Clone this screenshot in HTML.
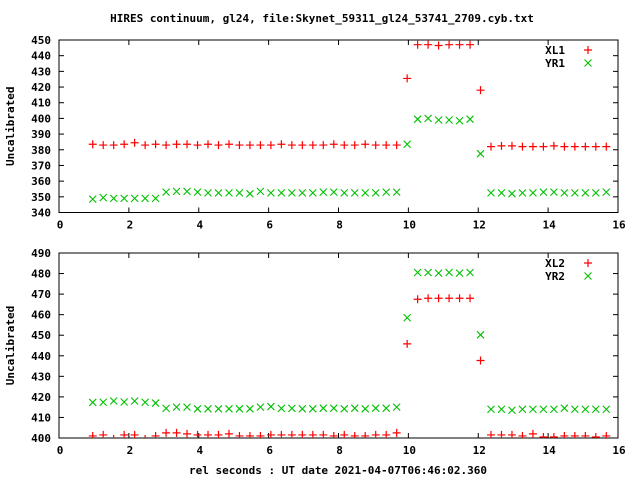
<!DOCTYPE html>
<html><head><meta charset="utf-8"><style>
body{margin:0;background:#fff}
svg{display:block}
text{font-family:"DejaVu Sans Mono","Liberation Mono",monospace;font-size:11px;font-weight:bold;fill:#000}
</style></head><body>
<svg id="chart" width="640" height="480" viewBox="0 0 640 480" xmlns="http://www.w3.org/2000/svg">
<rect width="640" height="480" fill="#fff"/>
<text x="322" y="22" text-anchor="middle">HIRES continuum, gl24, file:Skynet_59311_gl24_53741_2709.cyb.txt</text>
<text x="338" y="474" text-anchor="middle">rel seconds : UT date 2021-04-07T06:46:02.360</text>
<g id="g"></g>
</svg>
<script>
const t0 = 0.965, dt = 0.3;
const xl1 = [383.5,383,383,383.5,384.5,383,383.5,383,383.5,383.5,383,383.5,383,383.5,383,383,383,383,383.5,383,383,383,383,383.5,383,383,383.5,383,383,383,425.5,447,447,446.5,447,447,447,418,382,382.5,382.5,382,382,382,382.5,382,382,382,382,382];
const yr1 = [348.5,349.5,349,349,349,349,349,353,353.5,353.5,353,352.5,352.5,352.5,352.5,352,353.5,352.5,352.5,352.5,352.5,352.5,353,353,352.5,352.5,352.5,352.5,353,353,383.5,399.5,400,399,399,398.5,399.5,377.5,352.5,352.5,352,352.5,352.5,353,353,352.5,352.5,352.5,352.5,353];
const xl2 = [401,401.5,399.5,401.5,401.5,399.5,401,402.5,402.5,402,401.5,401.5,401.5,402,401,401,401,401.5,401.5,401.5,401.5,401.5,401.5,401,401.5,401,401,401.5,401.5,402.5,445.8,467.5,468,468,468,468,468,437.7,401.5,401.5,401.5,401,402,400.5,400.5,401,401,401,400.5,401];
const yr2 = [417.3,417.4,418,417.5,418,417.4,417,414.4,415,415,414.2,414.2,414.2,414.2,414.2,414.2,415,415.3,414.4,414.4,414.2,414.2,414.5,414.5,414.2,414.5,414.2,414.5,414.5,415,458.5,480.5,480.5,480.2,480.5,480.2,480.5,450.2,414,414,413.5,414,414,414,414,414.5,414,414,414,414];
const xTicks = [0,2,4,6,8,10,12,14,16];
const yTicks1 = [340,350,360,370,380,390,400,410,420,430,440,450];
const yTicks2 = [400,410,420,430,440,450,460,470,480,490];
const NS="http://www.w3.org/2000/svg";
const g=document.getElementById('g');
function mk(tag,attrs,parent){const e=document.createElementNS(NS,tag);for(const k in attrs)e.setAttribute(k,attrs[k]);(parent||g).appendChild(e);return e;}
const L=59,R=618;
const X=v=>L+(v-0)/(16-0)*(R-L);
function panel(name,top,bot,ymin,ymax,yTicks,s1,s2,n1,n2){
  const Y=v=>bot-(v-ymin)/(ymax-ymin)*(bot-top);
  const pg=mk('g',{});
  
  
  const fr=mk('rect',{x:L,y:top,width:R-L,height:bot-top,fill:'none',stroke:'#000','stroke-width':1},pg);
  
  
  xTicks.forEach(t=>{
    const x=X(t);
    mk('line',{x1:x,y1:bot,x2:x,y2:bot-5,stroke:'#000'},pg);
    mk('line',{x1:x,y1:top,x2:x,y2:top+5,stroke:'#000'},pg);
    const tx=mk('text',{x:x+1,y:bot+16,'text-anchor':'middle'},pg);
    tx.textContent=t;
    
    
  });
  yTicks.forEach(v=>{
    const y=Y(v);
    mk('line',{x1:L,y1:y,x2:L+5,y2:y,stroke:'#000'},pg);
    mk('line',{x1:R,y1:y,x2:R-5,y2:y,stroke:'#000'},pg);
    const tx=mk('text',{x:51,y:y+4,'text-anchor':'end'},pg);
    tx.textContent=v;
    
    
  });
  const yl=mk('text',{x:14,y:(top+bot)/2,'text-anchor':'middle',transform:`rotate(-90 14 ${(top+bot)/2})`},pg);
  yl.textContent='Uncalibrated';
  
  
  function plus(x,y,p){const e=mk('path',{d:`M${x-4} ${y}H${x+4}M${x} ${y-4}V${y+4}`,stroke:'#f00','stroke-width':1.2,fill:'none'},p);return e;}
  function cross(x,y,p){const e=mk('path',{d:`M${x-3.5} ${y-3.5}L${x+3.5} ${y+3.5}M${x-3.5} ${y+3.5}L${x+3.5} ${y-3.5}`,stroke:'#00c000','stroke-width':1.1,fill:'none'},p);return e;}
  const clip=name+'-clip';
  const cp=mk('clipPath',{id:clip},pg);mk('rect',{x:L,y:top,width:R-L,height:bot-top},cp);
  const sg1=mk('g',{'clip-path':`url(#${clip})`},pg);
  
  
  s1.forEach((v,i)=>{const e=plus(X(t0+dt*i),Y(v),sg1);
    
    });
  const sg2=mk('g',{'clip-path':`url(#${clip})`},pg);
  
  
  s2.forEach((v,i)=>{const e=cross(X(t0+dt*i),Y(v),sg2);
    
    });
  const lg=mk('g',{},pg);
  
  
  const a=mk('text',{x:565,y:top+14,'text-anchor':'end'},lg);a.textContent=n1;
  
  
  plus(588,top+10,lg);
  const b=mk('text',{x:565,y:top+27,'text-anchor':'end'},lg);b.textContent=n2;
  
  
  cross(588,top+23,lg);
}
panel('top-panel',40,212.5,340,450,yTicks1,xl1,yr1,'XL1','YR1');
panel('bottom-panel',253,438,400,490,yTicks2,xl2,yr2,'XL2','YR2');
</script>
</body></html>
